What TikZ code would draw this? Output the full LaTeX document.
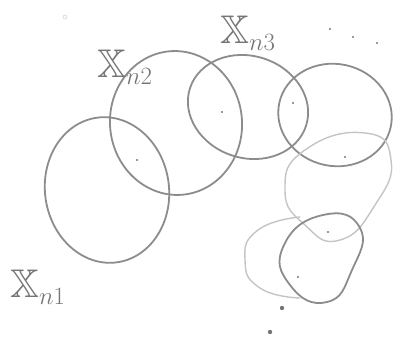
\documentclass[tikz,border=0pt]{standalone}
\usepackage{amsmath,amssymb}
\usepackage{xcolor}
\usepackage{tikz}
\definecolor{pencil}{HTML}{8C8C8C}
\definecolor{pencildk}{HTML}{767676}
\definecolor{pencillt}{HTML}{C4C4C4}
\tikzset{
  blob/.style={draw=pencil,line width=1.8pt,line cap=round},
  faintblob/.style={draw=pencillt,line width=1.4pt,line cap=round},
  lbl/.style={text=pencildk,anchor=base west,inner sep=0pt,font=\fontsize{40}{40}\selectfont},
  pt/.style={fill=pencildk}
}
\begin{document}
\begin{tikzpicture}[x=1pt,y=-1pt]
\useasboundingbox (0,0) rectangle (403,345);
% the covering sets
\draw[blob,rotate around={8:(107,190)}] (107,190) ellipse (62 and 73);
\draw[blob,rotate around={6:(176,123)}] (176,123) ellipse (66 and 72);
\draw[blob,rotate around={-18:(248,107)}] (248,107) ellipse (61 and 51);
\draw[blob,rotate around={-12:(335,115)}] (335,115) ellipse (57 and 51);
\draw[faintblob] plot[smooth cycle,tension=0.9] coordinates {(365,133) (391,160) (375,205) (340,240) (305,225) (285,190) (305,150)};
\draw[blob] plot[smooth cycle,tension=0.9] coordinates {(323,215) (360,228) (352,270) (327,302) (290,285) (284,245)};
\draw[faintblob] plot[smooth,tension=0.9] coordinates {(300,217) (258,230) (245,260) (260,288) (300,298)};
% centres
\foreach \p in {(137,160),(222,112),(293,103),(345,157),(328,232),(298,277)}
  \fill[pt] \p circle (1.1);
% labels
\node[lbl] (xa) at (10,297) {$\mathbb{X}_{n1}$};
\node[lbl] (xb) at (97,77) {$\mathbb{X}_{n2}$};
\node[lbl] (xc) at (220,43) {$\mathbb{X}_{n3}$};
% dots
\foreach \p in {(330,29),(353,37),(377,43)}
  \fill[pt] \p circle (1.2);
\foreach \p in {(282,308),(270,332)}
  \fill[pt] \p circle (2.2);
\draw[pencillt,thin] (65,17) circle (2);
\end{tikzpicture}
\end{document}
